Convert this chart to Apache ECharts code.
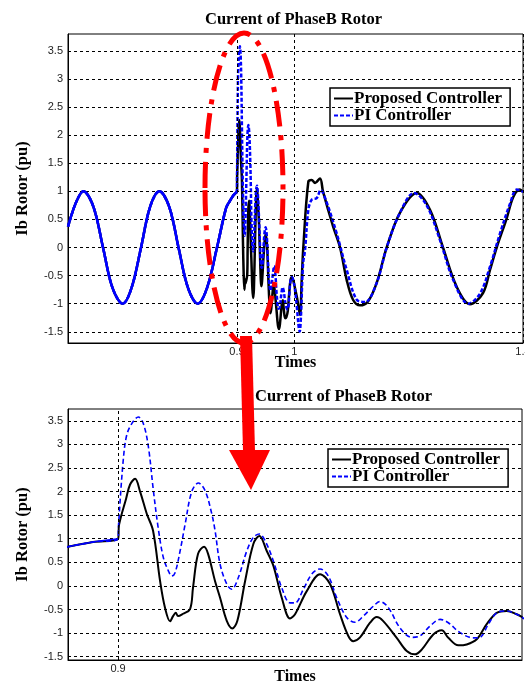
<!DOCTYPE html>
<html><head><meta charset="utf-8">
<script src="https://cdn.jsdelivr.net/npm/echarts@6/dist/echarts.min.js"></script>
<style>html,body{margin:0;padding:0;background:#fff}#c{width:525px;height:684px}</style>
</head><body><div id="c"></div>
<script>
const chartTitle = 'Current of PhaseB Rotor';
const seriesNames = ['Proposed Controller', 'PI Controller'];
const yTicks = [-1.5, -1, -0.5, 0, 0.5, 1, 1.5, 2, 2.5, 3, 3.5];
const topXTicks = [0.9, 1, 1.4];
const bottomXTicks = [0.9];

// shared pre-fault sine (both controllers identical)
const preTime = [0.6045, 0.6185, 0.6313, 0.6491, 0.6657, 0.6823, 0.7002, 0.7156, 0.7322, 0.7479, 0.7642, 0.7816, 0.7977, 0.8143, 0.8313, 0.8476, 0.8650, 0.8808, 0.8876, 0.8938, 0.9];
const preVal  = [0.37, 0.80, 1.00, 0.72, 0.00, -0.72, -1.00, -0.72, 0.00, 0.72, 1.00, 0.72, 0.00, -0.72, -1.00, -0.72, 0.00, 0.70, 0.83, 0.93, 1.0];

// Proposed controller after the fault
const propTime = [0.90025, 0.90198, 0.90297, 0.90421, 0.90545, 0.9071, 0.90866, 0.9104, 0.91163, 0.91287, 0.91361, 0.91428, 0.91485, 0.91609, 0.91782, 0.91856, 0.9198, 0.92129, 0.92228, 0.92401, 0.92525, 0.92691, 0.92829, 0.92953, 0.93144, 0.93349, 0.93498, 0.93681, 0.93844, 0.94052, 0.94257, 0.94381, 0.94671, 0.95, 0.95248, 0.95495, 0.957, 0.95824, 0.9599, 0.96238, 0.96403, 0.96559, 0.96898, 0.97146, 0.97351, 0.97517, 0.97804, 0.98012, 0.98176, 0.98423, 0.98631, 0.98879, 0.99126, 0.99374, 0.99621, 0.99869, 1.0, 1.005, 1.0101, 1.013, 1.0159, 1.0247, 1.0306, 1.0364, 1.0451, 1.0503, 1.0678, 1.0801, 1.0918, 1.1028, 1.115, 1.129, 1.1442, 1.1617, 1.185, 1.2142, 1.2374, 1.2601, 1.2841, 1.3073, 1.3301, 1.3423, 1.354, 1.3715, 1.383, 1.3947, 1.4];
const propVal  = [1.3, 1.85, 2.15, 2.27, 2.0, 1.53, 1.17, 0.1, -0.47, -0.75, -0.64, -0.57, -0.64, -0.59, -0.49, -0.03, 0.68, 0.83, 0.68, 0.1, -0.25, -0.74, -0.9, -0.74, 0.1, 0.89, 1.06, 0.74, 0.43, -0.25, -0.69, -0.6, -0.11, 0.25, 0.04, -0.6, -1.06, -1.17, -1.09, -0.78, -0.66, -0.74, -1.1, -1.38, -1.45, -1.35, -1.03, -0.94, -1.1, -1.26, -1.24, -1.13, -0.81, -0.57, -0.53, -0.6, -0.66, -0.9, -1.2, -0.6, 0.0, 1.17, 1.2, 1.15, 1.23, 1.0, 0.38, 0.0, -0.58, -0.93, -1.03, -0.96, -0.63, 0.0, 0.62, 0.97, 0.67, 0.0, -0.7, -1.01, -0.81, -0.4, 0.0, 0.52, 0.9, 1.03, 0.99];

// PI controller after the fault
const piTime = [0.90012, 0.90131, 0.90215, 0.90339, 0.90502, 0.90626, 0.9075, 0.90874, 0.90998, 0.91121, 0.91245, 0.91329, 0.91411, 0.91535, 0.91658, 0.91824, 0.91988, 0.92153, 0.92319, 0.92401, 0.92525, 0.92691, 0.92814, 0.92978, 0.93186, 0.93349, 0.93498, 0.93639, 0.93844, 0.94052, 0.94257, 0.94381, 0.94587, 0.94795, 0.95, 0.95205, 0.95413, 0.95661, 0.95866, 0.96072, 0.96319, 0.96485, 0.96691, 0.9698, 0.9727, 0.97475, 0.97723, 0.9797, 0.98176, 0.98465, 0.98795, 0.9896, 0.99166, 0.99374, 0.99621, 0.99869, 1.0, 1.0031, 1.0096, 1.0119, 1.0154, 1.0189, 1.0247, 1.0306, 1.0393, 1.0463, 1.0568, 1.0743, 1.0918, 1.1093, 1.1238, 1.1442, 1.1617, 1.185, 1.2094, 1.2316, 1.2549, 1.2781, 1.3044, 1.3248, 1.3423, 1.3598, 1.3773, 1.389, 1.4];
const piVal  = [1.3, 2.7, 3.2, 3.44, 3.58, 3.44, 2.95, 2.02, 1.2, 0.6, 0.32, 0.21, 0.28, 0.74, 1.3, 2.0, 2.18, 2.02, 1.53, 1.17, 0.46, 0.04, -0.07, 0.18, 0.74, 1.03, 1.10, 0.96, 0.53, -0.04, -0.36, -0.36, -0.07, 0.25, 0.36, 0.21, -0.25, -0.67, -0.77, -0.64, -0.43, -0.33, -0.46, -0.89, -1.09, -1.06, -0.85, -0.71, -0.78, -0.99, -1.1, -1.09, -0.81, -0.57, -0.53, -0.6, -0.66, -0.9, -1.5, -1.2, -0.3, -0.05, 0.67, 0.85, 0.88, 1.02, 0.8, 0.25, -0.4, -0.93, -0.97, -0.63, 0.0, 0.62, 0.97, 0.75, 0.13, -0.58, -1.0, -0.82, -0.34, 0.25, 0.78, 1.03, 0.99];

function pairs(t, v) { return t.map((x, i) => [x, v[i]]); }
const preData = pairs(preTime, preVal);
const propData = preData.concat(pairs(propTime, propVal));
const piData = preData.concat(pairs(piTime, piVal));

const serif = 'Liberation Serif';
const sans = 'Liberation Sans';
const gridDash = { color: '#000', width: 1, type: [3, 3] };

function gridSeries(idx, xTicks) {
  return {
    type: 'line', name: 'grid' + idx, xAxisIndex: idx, yAxisIndex: idx,
    data: [[xTicks[0], 0]], symbol: 'none', lineStyle: { opacity: 0 }, z: 1, silent: true,
    markLine: {
      silent: true, symbol: ['none', 'none'], label: { show: false }, animation: false,
      lineStyle: gridDash, emphasis: { disabled: true },
      data: yTicks.map(v => ({ yAxis: v })).concat(xTicks.map(v => ({ xAxis: v })))
    }
  };
}
function dataSeries(idx, w, bw, dash) {
  return [
    { type: 'line', name: seriesNames[0], xAxisIndex: idx, yAxisIndex: idx, data: propData,
      symbol: 'circle', showSymbol: false, smooth: 0.35, lineStyle: { color: '#000', width: w }, itemStyle: { color: '#000' }, z: 3, animation: false },
    { type: 'line', name: seriesNames[1], xAxisIndex: idx, yAxisIndex: idx, data: piData,
      symbol: 'circle', showSymbol: false, smooth: 0.35, lineStyle: { color: '#0000ff', width: bw, type: dash }, itemStyle: { color: '#0000ff' }, z: 4, animation: false },
    { type: 'line', name: 'pre' + idx, xAxisIndex: idx, yAxisIndex: idx, data: preData,
      symbol: 'none', smooth: 0.35, lineStyle: { color: '#0000ff', width: bw }, z: 5, animation: false, silent: true }
  ];
}
function xAxis(idx, min, max, ticks, gap) {
  return {
    gridIndex: idx, type: 'value', min: min, max: max,
    axisLine: { show: true, onZero: false, lineStyle: { color: '#000', width: 1 } },
    axisTick: { show: false }, splitLine: { show: false },
    axisLabel: { customValues: ticks, fontFamily: sans, fontSize: 11, color: '#222', margin: 3,
      alignMinLabel: 'center', alignMaxLabel: 'center', hideOverlap: false },
    name: 'Times', nameLocation: 'middle', nameGap: gap, nameMoveOverlap: false,
    nameTextStyle: { fontFamily: serif, fontWeight: 'bold', fontSize: 16, color: '#000' }
  };
}
function yAxis(idx, min, max) {
  return {
    gridIndex: idx, type: 'value', min: min, max: max,
    axisLine: { show: true, onZero: false, lineStyle: { color: '#000', width: 1 } },
    axisTick: { show: false }, splitLine: { show: false },
    axisLabel: { customValues: yTicks, fontFamily: sans, fontSize: 11, color: '#222', margin: 5 },
    name: 'Ib Rotor (pu)', nameLocation: 'middle', nameGap: 37, nameMoveOverlap: false,
    nameTextStyle: { fontFamily: serif, fontWeight: 'bold', fontSize: 16.5, color: '#000' }
  };
}
function legend(left, top) {
  return {
    left: left, top: top, orient: 'vertical', data: seriesNames,
    borderColor: '#000', borderWidth: 1.5, backgroundColor: '#fff',
    padding: [2, 8, 2, 3], itemGap: 0, itemWidth: 19, itemHeight: 17,
    itemStyle: { opacity: 0 },
    textStyle: { fontFamily: serif, fontWeight: 'bold', fontSize: 17, color: '#000', padding: [0, 0, 0, -4] },
    selectedMode: false
  };
}

const chart = echarts.init(document.getElementById('c'), null, { renderer: 'canvas' });
chart.setOption({
  backgroundColor: '#fff',
  animation: false,
  title: [
    { text: chartTitle, left: 205, top: 11, padding: 0, textStyle: { fontFamily: serif, fontWeight: 'bold', fontSize: 16.5, color: '#000' } },
    { text: chartTitle, left: 255, top: 388, padding: 0, textStyle: { fontFamily: serif, fontWeight: 'bold', fontSize: 16.5, color: '#000' } }
  ],
  legend: [legend(330, 88), legend(328, 449)],
  grid: [
    { left: 68, right: 2, top: 34, bottom: 341, outerBoundsMode: 'none', containLabel: false, show: true, borderColor: '#000', borderWidth: 1, backgroundColor: 'transparent' },
    { left: 68, right: 3, top: 409, bottom: 24, outerBoundsMode: 'none', containLabel: false, show: true, borderColor: '#000', borderWidth: 1, backgroundColor: 'transparent' }
  ],
  xAxis: [xAxis(0, 0.6045, 1.4, topXTicks, 12), xAxis(1, 0.8876, 1.0, bottomXTicks, 9)],
  yAxis: [yAxis(0, -1.7, 3.8), yAxis(1, -1.57, 3.75)],
  series: [gridSeries(0, topXTicks), gridSeries(1, bottomXTicks)]
    .concat(dataSeries(0, 2.5, 2.5, [4, 2])).concat(dataSeries(1, 2, 1.6, [5, 3])),
  graphic: [
    { type: 'ellipse', z: 100, silent: true, shape: { cx: 244, cy: 188, rx: 39, ry: 155 },
      style: { fill: 'none', stroke: '#ff0000', lineWidth: 5, lineDash: [26, 9, 5, 9] } },
    { type: 'polygon', z: 100, silent: true, shape: { points: [[240, 336], [252, 336], [255, 451], [243, 451]] },
      style: { fill: '#ff0000' } },
    { type: 'polygon', z: 100, silent: true, shape: { points: [[229, 450], [270, 450], [251, 490]] },
      style: { fill: '#ff0000' } }
  ]
});
</script>
</body></html>
